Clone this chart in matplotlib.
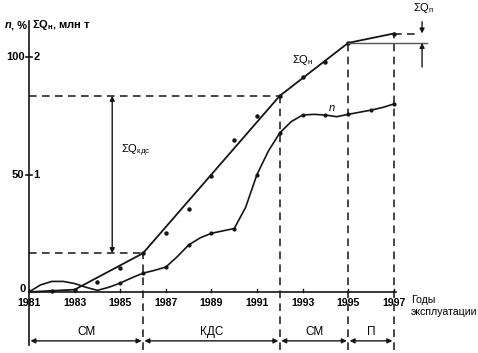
import matplotlib
matplotlib.use('Agg')
import matplotlib.pyplot as plt

# cumulative oil production ΣQн, million t (measured points)
q_years = [1982, 1983, 1984, 1985, 1986, 1987, 1988, 1989, 1990, 1991, 1992, 1993, 1994, 1995, 1997]
q_vals = [0.01, 0.02, 0.085, 0.2, 0.33, 0.5, 0.71, 0.99, 1.29, 1.5, 1.67, 1.83, 1.96, 2.12, 2.2]

# fitted ΣQн line
q_line_years = [1981, 1982, 1983, 1986, 1992, 1995, 1997]
q_line_vals = [0.0, 0.01, 0.02, 0.33, 1.67, 2.12, 2.2]

# n, %
n_curve_years = [1981, 1981.5, 1982, 1982.5, 1983, 1983.5, 1984, 1984.5, 1985, 1985.5, 1986,
                 1986.5, 1987, 1987.5, 1988, 1988.5, 1989, 1989.5, 1990, 1990.5, 1991, 1991.5,
                 1992, 1992.5, 1993, 1993.5, 1994, 1994.5, 1995, 1995.5, 1996, 1996.5, 1997]
n_curve_vals = [0, 3, 4.5, 4.5, 3.6, 2.0, 0.7, 2.0, 3.8, 6.0, 8.0,
                9.2, 10.6, 15, 20, 23, 25, 26, 27, 36, 50, 60,
                67.7, 72.5, 75.3, 75.6, 75.3, 74.6, 75.6, 76.5, 77.4, 78.5, 80]
n_dot_years = [1985, 1986, 1987, 1988, 1989, 1990, 1991, 1992, 1993, 1994, 1995, 1996, 1997]
n_dot_vals = [3.8, 8.0, 10.6, 20, 25, 27, 50, 67.7, 75.3, 75.3, 75.6, 77.4, 80]

stage_bounds = [1981, 1986, 1992, 1995, 1997]
stage_names = ['СМ', 'КДС', 'СМ', 'П']
year_ticks = [1981, 1983, 1985, 1987, 1989, 1991, 1993, 1995, 1997]

Q_SCALE = 50  # 2 million t on the right scale == 100 % on the left

plt.rcParams['font.family'] = ['Liberation Sans', 'DejaVu Sans']
plt.rcParams['font.size'] = 8
plt.rcParams['mathtext.fontset'] = 'custom'
plt.rcParams['mathtext.rm'] = 'Liberation Sans'
plt.rcParams['mathtext.it'] = 'Liberation Sans:italic'
plt.rcParams['mathtext.bf'] = 'Liberation Sans:bold'
plt.rcParams['mathtext.default'] = 'rm'

INK = '#151515'
BOLD = dict(fontweight='bold')

fig = plt.figure(figsize=(4.78, 3.53), dpi=100)
ax = fig.add_axes([0, 0, 1, 1])
ax.set_xlim(1979.728, 2000.693)
ax.set_ylim(-25.96, 124.26)
ax.axis('off')

# axes
ax.plot([1981, 1981], [-22.5, 115.5], color=INK, lw=1.2)
ax.plot([1981, 1997.1], [0, 0], color=INK, lw=1.2)
for yv, left, right in [(100, '100', '2'), (50, '50', '1')]:
    ax.plot([1980.85, 1981.15], [yv, yv], color=INK, lw=1.2)
    ax.text(1980.8, yv, left, ha='right', va='center', **BOLD)
    ax.text(1981.2, yv, right, ha='left', va='center', **BOLD)
ax.text(1980.85, 1.2, '0', ha='right', va='center', **BOLD)
for yr in year_ticks:
    ax.plot([yr, yr], [0, 1.2], color=INK, lw=1)
    ax.text(yr, -4.6, str(yr), ha='center', va='center', fontsize=7.6, **BOLD)
fig.text(5 / 478, 1 - 25 / 353, 'n', ha='left', va='center', style='italic', **BOLD)
fig.text(11 / 478, 1 - 25 / 353, ', %', ha='left', va='center', **BOLD)
fig.text(32 / 478, 1 - 25 / 353, r'ΣQ$_{\mathbf{н}}$, млн т', ha='left', va='center', **BOLD)
fig.text(411 / 478, 1 - 300 / 353, 'Годы', ha='left', va='center', fontsize=7.6)
fig.text(411 / 478, 1 - 312 / 353, 'эксплуатации', ha='left', va='center', fontsize=7.6)

# curves
qy = [v * Q_SCALE for v in q_line_vals]
ax.plot(q_line_years, qy, color=INK, lw=1.3)
ax.plot(q_years, [v * Q_SCALE for v in q_vals], 'o', color=INK, ms=2.2)
ax.plot(n_curve_years, n_curve_vals, color=INK, lw=1.2)
ax.plot(n_dot_years, n_dot_vals, 'o', color=INK, ms=2.0)
ax.text(1992.55, 98.7, r'ΣQ$_{\mathrm{н}}$', ha='left', va='center')
ax.text(1994.3, 78.5, 'n', ha='center', va='center', style='italic')

dash = dict(color=INK, lw=1.1, ls=(0, (5, 3.5)))
q_at = dict(zip(q_line_years, qy))

# stage boundaries
for b in stage_bounds[1:]:
    ax.plot([b, b], [-24.5, q_at[b]], **dash)

# ΣQкдс
y0, y1 = q_at[stage_bounds[1]], q_at[stage_bounds[2]]
ax.plot([1981, stage_bounds[1]], [y0, y0], **dash)
ax.plot([1981, stage_bounds[2]], [y1, y1], **dash)
ax.annotate('', xy=(1984.65, y0), xytext=(1984.65, y1),
            arrowprops=dict(arrowstyle='<|-|>', color=INK, lw=1, shrinkA=0, shrinkB=0,
                            mutation_scale=7))
ax.text(1985.05, 60, r'ΣQ$_{\mathrm{кдс}}$', ha='left', va='center')

# ΣQп
yp0, yp1 = q_at[1995], q_at[1997]
ax.plot([1995, 1998.45], [yp0, yp0], color='#555555', lw=1)
ax.plot([1997, 1998.05], [yp1, yp1], **dash)
ax.annotate('', xy=(1998.24, yp1), xytext=(1998.24, 115),
            arrowprops=dict(arrowstyle='-|>', color=INK, lw=1, shrinkA=0, shrinkB=0,
                            mutation_scale=7))
ax.annotate('', xy=(1998.24, yp0), xytext=(1998.24, 95.7),
            arrowprops=dict(arrowstyle='-|>', color=INK, lw=1, shrinkA=0, shrinkB=0,
                            mutation_scale=7))
ax.text(1998.3, 120.9, r'ΣQ$_{\mathrm{п}}$', ha='center', va='center')

# stage arrows
for a, b, name in zip(stage_bounds[:-1], stage_bounds[1:], stage_names):
    ax.annotate('', xy=(b, -20.8), xytext=(a, -20.8),
                arrowprops=dict(arrowstyle='<|-|>', color=INK, lw=1, shrinkA=1, shrinkB=1,
                                mutation_scale=7))
    ax.text((a + b) / 2, -17, name, ha='center', va='center', fontsize=8.5)

fig.savefig('out.png', dpi=100, facecolor='white')
